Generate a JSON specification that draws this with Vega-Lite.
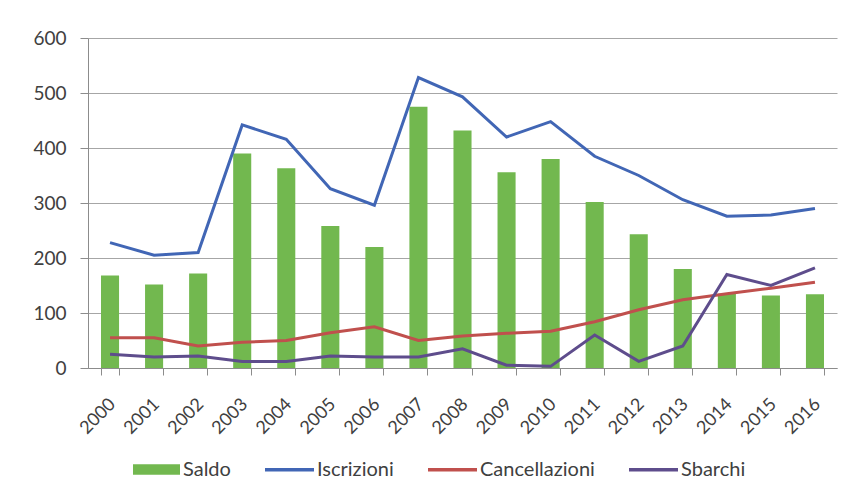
{
  "$schema": "https://vega.github.io/schema/vega-lite/v6.json",
  "width": 749,
  "height": 330,
  "autosize": {"type": "none"},
  "padding": {"left": 88, "top": 38, "right": 18, "bottom": 127},
  "background": "white",
  "config": {
    "font": "Lato",
    "view": {"stroke": null},
    "axis": {
      "labelColor": "#404040",
      "domainColor": "#8c8c8c",
      "tickColor": "#8c8c8c",
      "gridColor": "#a6a6a6",
      "title": null
    }
  },
  "data": {
    "values": [
      {"year": "2000", "serie": "Saldo", "value": 168},
      {"year": "2001", "serie": "Saldo", "value": 152},
      {"year": "2002", "serie": "Saldo", "value": 172},
      {"year": "2003", "serie": "Saldo", "value": 390},
      {"year": "2004", "serie": "Saldo", "value": 363},
      {"year": "2005", "serie": "Saldo", "value": 258},
      {"year": "2006", "serie": "Saldo", "value": 220},
      {"year": "2007", "serie": "Saldo", "value": 475},
      {"year": "2008", "serie": "Saldo", "value": 432},
      {"year": "2009", "serie": "Saldo", "value": 356},
      {"year": "2010", "serie": "Saldo", "value": 380},
      {"year": "2011", "serie": "Saldo", "value": 302},
      {"year": "2012", "serie": "Saldo", "value": 243},
      {"year": "2013", "serie": "Saldo", "value": 180},
      {"year": "2014", "serie": "Saldo", "value": 135},
      {"year": "2015", "serie": "Saldo", "value": 132},
      {"year": "2016", "serie": "Saldo", "value": 134},
      {"year": "2000", "serie": "Iscrizioni", "value": 228},
      {"year": "2001", "serie": "Iscrizioni", "value": 205},
      {"year": "2002", "serie": "Iscrizioni", "value": 210},
      {"year": "2003", "serie": "Iscrizioni", "value": 442},
      {"year": "2004", "serie": "Iscrizioni", "value": 416},
      {"year": "2005", "serie": "Iscrizioni", "value": 326},
      {"year": "2006", "serie": "Iscrizioni", "value": 296},
      {"year": "2007", "serie": "Iscrizioni", "value": 528},
      {"year": "2008", "serie": "Iscrizioni", "value": 493},
      {"year": "2009", "serie": "Iscrizioni", "value": 420},
      {"year": "2010", "serie": "Iscrizioni", "value": 448},
      {"year": "2011", "serie": "Iscrizioni", "value": 385},
      {"year": "2012", "serie": "Iscrizioni", "value": 350},
      {"year": "2013", "serie": "Iscrizioni", "value": 306},
      {"year": "2014", "serie": "Iscrizioni", "value": 276},
      {"year": "2015", "serie": "Iscrizioni", "value": 278},
      {"year": "2016", "serie": "Iscrizioni", "value": 290},
      {"year": "2000", "serie": "Cancellazioni", "value": 55},
      {"year": "2001", "serie": "Cancellazioni", "value": 55},
      {"year": "2002", "serie": "Cancellazioni", "value": 40},
      {"year": "2003", "serie": "Cancellazioni", "value": 47},
      {"year": "2004", "serie": "Cancellazioni", "value": 50},
      {"year": "2005", "serie": "Cancellazioni", "value": 64},
      {"year": "2006", "serie": "Cancellazioni", "value": 75},
      {"year": "2007", "serie": "Cancellazioni", "value": 50},
      {"year": "2008", "serie": "Cancellazioni", "value": 58},
      {"year": "2009", "serie": "Cancellazioni", "value": 63},
      {"year": "2010", "serie": "Cancellazioni", "value": 67},
      {"year": "2011", "serie": "Cancellazioni", "value": 84},
      {"year": "2012", "serie": "Cancellazioni", "value": 106},
      {"year": "2013", "serie": "Cancellazioni", "value": 124},
      {"year": "2014", "serie": "Cancellazioni", "value": 135},
      {"year": "2015", "serie": "Cancellazioni", "value": 145},
      {"year": "2016", "serie": "Cancellazioni", "value": 156},
      {"year": "2000", "serie": "Sbarchi", "value": 25},
      {"year": "2001", "serie": "Sbarchi", "value": 20},
      {"year": "2002", "serie": "Sbarchi", "value": 22},
      {"year": "2003", "serie": "Sbarchi", "value": 12},
      {"year": "2004", "serie": "Sbarchi", "value": 12},
      {"year": "2005", "serie": "Sbarchi", "value": 22},
      {"year": "2006", "serie": "Sbarchi", "value": 20},
      {"year": "2007", "serie": "Sbarchi", "value": 20},
      {"year": "2008", "serie": "Sbarchi", "value": 35},
      {"year": "2009", "serie": "Sbarchi", "value": 5},
      {"year": "2010", "serie": "Sbarchi", "value": 3},
      {"year": "2011", "serie": "Sbarchi", "value": 60},
      {"year": "2012", "serie": "Sbarchi", "value": 12},
      {"year": "2013", "serie": "Sbarchi", "value": 40},
      {"year": "2014", "serie": "Sbarchi", "value": 170},
      {"year": "2015", "serie": "Sbarchi", "value": 150},
      {"year": "2016", "serie": "Sbarchi", "value": 182}
    ]
  },
  "encoding": {
    "x": {
      "field": "year",
      "type": "ordinal",
      "scale": {"paddingInner": 0.59, "paddingOuter": 0.295},
      "axis": {"labelAngle": -45, "tickBand": "extent", "tickSize": 7, "grid": false, "labelPadding": 20, "labelOffset": -4, "labelFontSize": 18}
    },
    "y": {
      "field": "value",
      "type": "quantitative",
      "scale": {"domain": [0, 600], "nice": false},
      "axis": {"values": [0, 100, 200, 300, 400, 500, 600], "tickSize": 8, "labelPadding": 14, "labelFontSize": 19, "grid": true}
    }
  },
  "layer": [
    {
      "transform": [{"filter": "datum.serie === 'Saldo'"}],
      "mark": {"type": "bar"},
      "encoding": {
        "fill": {
          "field": "serie",
          "type": "nominal",
          "scale": {"domain": ["Saldo"], "range": ["#72b84f"]},
          "legend": {
            "orient": "none",
            "legendX": 45,
            "legendY": 408,
            "direction": "horizontal",
            "title": null,
            "symbolType": "M-1,-0.22H1V0.22H-1Z",
            "symbolSize": 2209,
            "symbolStrokeWidth": 0,
            "symbolOpacity": 1,
            "labelFontSize": 20,
            "labelColor": "#404040",
            "labelOffset": 3
          }
        }
      }
    },
    {
      "transform": [{"filter": "datum.serie !== 'Saldo'"}],
      "mark": {"type": "line", "strokeWidth": 3},
      "encoding": {
        "stroke": {
          "field": "serie",
          "type": "nominal",
          "scale": {"domain": ["Iscrizioni", "Cancellazioni", "Sbarchi"], "range": ["#4166b5", "#c0504d", "#5e4d8c"]},
          "legend": {
            "orient": "none",
            "legendX": 175,
            "legendY": 405,
            "direction": "horizontal",
            "title": null,
            "symbolType": "stroke",
            "symbolSize": 2401,
            "symbolStrokeWidth": 3.5,
            "labelFontSize": 20,
            "labelColor": "#404040",
            "labelOffset": 1,
            "columnPadding": 27
          }
        }
      }
    }
  ]
}
